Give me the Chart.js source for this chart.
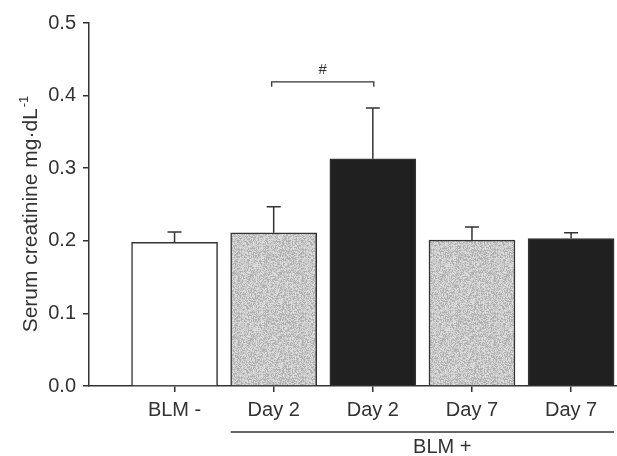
<!DOCTYPE html>
<html><head><meta charset="utf-8">
<style>html,body{margin:0;padding:0;background:#fff}#wrap{width:617px;height:456px;position:relative}</style>
<script src="https://cdn.jsdelivr.net/npm/chart.js@4.4.1/dist/chart.umd.min.js"></script>
</head><body><div id="wrap"><canvas id="c" width="617" height="456"></canvas></div>
<script>
const categories = ['BLM -', 'Day 2', 'Day 2', 'Day 7', 'Day 7'];
const means = [0.198, 0.211, 0.313, 0.201, 0.203];
const errors = [0.014, 0.036, 0.070, 0.018, 0.008];
const fillKinds = ['white', 'gray', 'black', 'gray', 'black'];
const yTickValues = [0, 0.1, 0.2, 0.3, 0.4, 0.5];
const groupLabel = 'BLM +';
const groupFrom = 2, groupTo = 5, groupLabelAt = 3.7;
const sigLabel = '#';
const sigFrom = 2, sigTo = 3, sigLevel = 0.419;
const yTitle = 'Serum creatinine mg\u00B7dL';
const yTitleSup = '-1';

const INK = '#333333';
const FONT = '"Liberation Sans", Arial, Helvetica, sans-serif';

function makeStipple() {
  const c = document.createElement('canvas'); c.width = c.height = 64;
  const g = c.getContext('2d');
  g.fillStyle = '#c9c9c9'; g.fillRect(0, 0, 64, 64);
  let s = 987654;
  const rnd = () => { s = (s * 1103515245 + 12345) & 0x7fffffff; return s / 0x7fffffff; };
  for (let y = 0; y < 64; y++) for (let x = 0; x < 64; x++) {
    const r = rnd();
    if (r < 0.3) { g.fillStyle = 'rgba(110,110,110,0.28)'; g.fillRect(x, y, 1, 1); }
    else if (r > 0.72) { g.fillStyle = 'rgba(255,255,255,0.35)'; g.fillRect(x, y, 1, 1); }
  }
  return g.createPattern(c, 'repeat');
}
const stipple = makeStipple();
const fills = fillKinds.map(k => k === 'white' ? '#ffffff' : k === 'gray' ? stipple : '#202020');

const extras = {
  id: 'extras',
  afterDatasetsDraw(chart) {
    const ctx = chart.ctx, xs = chart.scales.x, ys = chart.scales.y;
    ctx.save();
    ctx.strokeStyle = INK; ctx.fillStyle = INK; ctx.lineWidth = 1.5;
    // error bars
    means.forEach((m, i) => {
      const x = xs.getPixelForValue(i + 1);
      const y0 = ys.getPixelForValue(m), y1 = ys.getPixelForValue(m + errors[i]);
      ctx.beginPath(); ctx.moveTo(x, y0); ctx.lineTo(x, y1);
      ctx.moveTo(x - 7, y1); ctx.lineTo(x + 7, y1); ctx.stroke();
    });
    // significance bracket
    const bx1 = xs.getPixelForValue(sigFrom) - 2, bx2 = xs.getPixelForValue(sigTo) + 1;
    const by = ys.getPixelForValue(sigLevel);
    ctx.lineWidth = 1.3;
    ctx.beginPath(); ctx.moveTo(bx1, by + 5); ctx.lineTo(bx1, by); ctx.lineTo(bx2, by); ctx.lineTo(bx2, by + 5); ctx.stroke();
    ctx.font = '15px ' + FONT; ctx.textAlign = 'center'; ctx.textBaseline = 'bottom';
    ctx.fillText(sigLabel, (bx1 + bx2) / 2, by - 4);
    // group line and label
    const half = 43;
    const gx1 = xs.getPixelForValue(groupFrom) - half, gx2 = xs.getPixelForValue(groupTo) + half;
    ctx.lineWidth = 1.3;
    ctx.beginPath(); ctx.moveTo(gx1, 432); ctx.lineTo(gx2, 432); ctx.stroke();
    ctx.font = '20px ' + FONT; ctx.textBaseline = 'alphabetic';
    ctx.fillText(groupLabel, xs.getPixelForValue(groupLabelAt), 453);
    // y title
    ctx.translate(37, 0); ctx.rotate(-Math.PI / 2);
    ctx.font = '21px ' + FONT;
    const w1 = ctx.measureText(yTitle).width;
    ctx.font = '13px ' + FONT;
    const w2 = ctx.measureText(yTitleSup).width;
    const total = w1 + w2 + 1;
    const cy = 214;
    ctx.textAlign = 'left';
    ctx.font = '21px ' + FONT;
    ctx.fillText(yTitle, -cy - total / 2, 0);
    ctx.font = '13px ' + FONT;
    ctx.fillText(yTitleSup, -cy - total / 2 + w1 + 1, -9);
    ctx.restore();
  }
};

new Chart(document.getElementById('c'), {
  type: 'bar',
  data: {
    datasets: [{
      data: means.map((m, i) => ({ x: i + 1, y: m })),
      backgroundColor: fills,
      borderColor: INK,
      borderWidth: 1.5,
      barThickness: 86
    }]
  },
  options: {
    responsive: false,
    animation: false,
    devicePixelRatio: 1,
    layout: { padding: { top: 23, right: 0, left: 0, bottom: 0 } },
    plugins: { legend: { display: false }, tooltip: { enabled: false } },
    scales: {
      x: {
        type: 'linear', min: 0.137, max: 5.463, offset: false,
        afterBuildTicks: s => { s.ticks = categories.map((c, i) => ({ value: i + 1 })); },
        afterFit: s => { s.height = 70; },
        grid: { offset: false, drawOnChartArea: false, drawTicks: true, tickLength: 6, color: INK, lineWidth: 1.5 },
        border: { display: true, color: INK, width: 1.5 },
        ticks: { callback: v => categories[Math.round(v) - 1] ?? '', font: { size: 20, family: FONT }, color: INK, padding: 6, maxRotation: 0, autoSkip: false }
      },
      y: {
        min: 0, max: 0.5,
        afterBuildTicks: s => { s.ticks = yTickValues.map(v => ({ value: v })); },
        afterFit: s => { s.width = 89; },
        grid: { drawOnChartArea: false, drawTicks: true, tickLength: 6, color: INK, lineWidth: 1.5 },
        border: { display: true, color: INK, width: 1.5 },
        ticks: { callback: v => v.toFixed(1), font: { size: 20, family: FONT }, color: INK, padding: 7 }
      }
    }
  },
  plugins: [extras]
});
</script>
</body></html>
